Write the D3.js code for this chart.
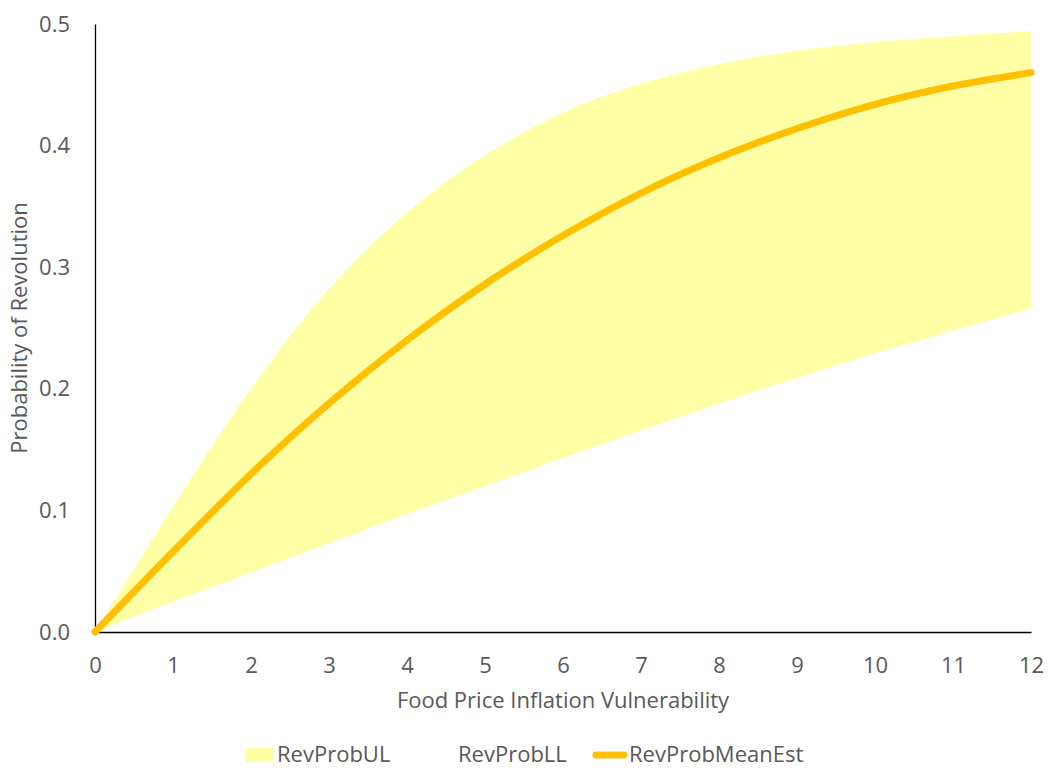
<!DOCTYPE html>
<html>
<head>
<meta charset="utf-8">
<script src="https://cdn.jsdelivr.net/npm/d3@7"></script>
<style>
  body { margin: 0; background: #fff; }
  svg text { font-family: "Open Sans", sans-serif; fill: #595959; }
</style>
</head>
<body>
<svg id="canvas"></svg>
<script>
const vulnerability = [0, 1, 2, 3, 4, 5, 6, 7, 8, 9, 10, 11, 12];
const revProbUL = [0, 0.103, 0.200, 0.282, 0.345, 0.392, 0.427, 0.451, 0.467, 0.478, 0.485, 0.490, 0.494];
const revProbLL = [0, 0.025, 0.049, 0.073, 0.097, 0.120, 0.143, 0.166, 0.188, 0.209, 0.229, 0.248, 0.266];
const revProbMean = [0, 0.066, 0.130, 0.188, 0.240, 0.286, 0.326, 0.361, 0.390, 0.414, 0.434, 0.449, 0.460];
const yTicks = [0, 0.1, 0.2, 0.3, 0.4, 0.5];

const width = 1050;
const height = 768;
const margin = { top: 24, right: 19, bottom: 136, left: 95 };
const fontSize = '22px';

const svg = d3.select('#canvas').attr('width', width).attr('height', height);

const data = vulnerability.map((v, i) => ({
  x: v, ul: revProbUL[i], ll: revProbLL[i], mean: revProbMean[i]
}));

const x = d3.scaleLinear()
  .domain([0, 12])
  .range([margin.left, width - margin.right]);

const y = d3.scaleLinear()
  .domain([0, 0.5])
  .range([height - margin.bottom, margin.top]);

const curve = d3.curveCatmullRom.alpha(0.5);

// upper limit area (light yellow), lower limit area drawn in white on top
svg.append('path')
  .datum(data)
  .attr('fill', '#FFFFA6')
  .attr('d', d3.area().x(d => x(d.x)).y0(y(0)).y1(d => y(d.ul)).curve(curve));

svg.append('path')
  .datum(data)
  .attr('fill', '#FFFFFF')
  .attr('d', d3.area().x(d => x(d.x)).y0(y(0)).y1(d => y(d.ll)).curve(curve));

// axes
const xAxis = svg.append('g')
  .attr('transform', `translate(0,${y(0)})`)
  .call(d3.axisBottom(x).tickValues(vulnerability).tickSize(0).tickPadding(25).tickFormat(d3.format('d')));
xAxis.select('.domain').attr('stroke', '#000').attr('stroke-width', 1.3);
xAxis.selectAll('text').style('font-size', fontSize).attr('fill', '#595959');

const yAxis = svg.append('g')
  .attr('transform', `translate(${x(0)},0)`)
  .call(d3.axisLeft(y).tickValues(yTicks).tickSize(0).tickPadding(25).tickFormat(d3.format('.1f')));
yAxis.select('.domain').attr('stroke', '#000').attr('stroke-width', 1.3);
yAxis.selectAll('text').style('font-size', fontSize).attr('fill', '#595959');

// mean line
svg.append('path')
  .datum(data)
  .attr('fill', 'none')
  .attr('stroke', '#FFC000')
  .attr('stroke-width', 7)
  .attr('stroke-linecap', 'round')
  .attr('d', d3.line().x(d => x(d.x)).y(d => y(d.mean)).curve(curve));

// axis titles
svg.append('text')
  .attr('x', (x(0) + x(12)) / 2)
  .attr('y', 708)
  .attr('text-anchor', 'middle')
  .style('font-size', fontSize)
  .text('Food Price Inflation Vulnerability');

svg.append('text')
  .attr('transform', `translate(27,${(y(0) + y(0.5)) / 2}) rotate(-90)`)
  .attr('text-anchor', 'middle')
  .style('font-size', fontSize)
  .text('Probability of Revolution');

// legend
const legend = svg.append('g').attr('transform', 'translate(0,755)');
legend.append('rect').attr('x', 246).attr('y', -7).attr('width', 27).attr('height', 14).attr('fill', '#FFFFA6');
legend.append('text').attr('x', 277).attr('y', 7).style('font-size', fontSize).text('RevProbUL');
legend.append('text').attr('x', 458).attr('y', 7).style('font-size', fontSize).text('RevProbLL');
legend.append('line').attr('x1', 596).attr('x2', 624).attr('y1', 0).attr('y2', 0)
  .attr('stroke', '#FFC000').attr('stroke-width', 7).attr('stroke-linecap', 'round');
legend.append('text').attr('x', 629).attr('y', 7).style('font-size', fontSize).text('RevProbMeanEst');
</script>
</body>
</html>
